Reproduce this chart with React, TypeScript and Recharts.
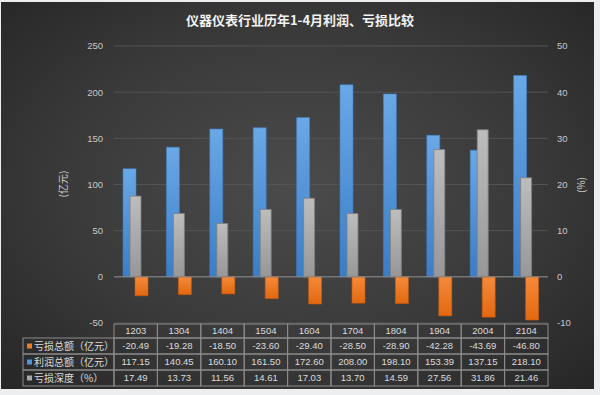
import React from 'react';
import { ComposedChart, Bar, XAxis, YAxis, CartesianGrid, ReferenceLine } from 'recharts';

const categories = ['1203', '1304', '1404', '1504', '1604', '1704', '1804', '1904', '2004', '2104'];
const lossValues = [-20.49, -19.28, -18.5, -23.6, -29.4, -28.5, -28.9, -42.28, -43.69, -46.8];
const profitValues = [117.15, 140.45, 160.1, 161.5, 172.6, 208.0, 198.1, 153.39, 137.15, 218.1];
const depthValues = [17.49, 13.73, 11.56, 14.61, 17.03, 13.7, 14.59, 27.56, 31.86, 21.46];
const leftTicks = [-50, 0, 50, 100, 150, 200, 250];
const rightTicks = [-10, 0, 10, 20, 30, 40, 50];
const rowLabels = ['亏损总额（亿元）', '利润总额（亿元）', '亏损深度（%）'];

const data = categories.map((cat, i) => ({
  cat,
  loss: lossValues[i],
  profit: profitValues[i],
  depth: depthValues[i],
}));

const W = 600;
const H = 395;
const PLOT_LEFT = 114;
const PLOT_RIGHT = 548;
const CELL_W = (PLOT_RIGHT - PLOT_LEFT) / categories.length;
const LABEL_COL_W = 91;
const ROW_EDGES = [1, 15, 31, 47, 63];
const BORDER = '#8c8c8c';
const TEXT = '#dcdcdc';
const CJK = '"Noto Sans CJK SC", "Noto Sans", sans-serif';
const NUM = '"Liberation Sans", Arial, sans-serif';
const SWATCH = ['url(#gOrange)', 'url(#gBlue)', 'url(#gGray)'];
const SWATCH_FLAT = ['#ee7b25', '#4f92d8', '#a8a8a8'];

const TableTick = (props: any) => {
  const { x, y, payload } = props;
  const index = payload.index;
  const left = x - CELL_W / 2;
  const rows = [
    categories[index],
    lossValues[index].toFixed(2),
    profitValues[index].toFixed(2),
    depthValues[index].toFixed(2),
  ];
  return (
    <g>
      {rows.map((txt, r) => (
        <g key={r}>
          <rect
            x={left}
            y={y + ROW_EDGES[r]}
            width={CELL_W}
            height={ROW_EDGES[r + 1] - ROW_EDGES[r]}
            fill="none"
            stroke={BORDER}
            strokeWidth={1}
          />
          <text
            x={x}
            y={y + (ROW_EDGES[r] + ROW_EDGES[r + 1]) / 2}
            dy="0.36em"
            textAnchor="middle"
            fill={TEXT}
            fontSize={9.5}
            fontFamily={NUM}
          >
            {txt}
          </text>
        </g>
      ))}
      {index === 0 &&
        rowLabels.map((lab, r) => {
          const top = y + ROW_EDGES[r + 1];
          const h = ROW_EDGES[r + 2] - ROW_EDGES[r + 1];
          const lx = left - LABEL_COL_W;
          return (
            <g key={'l' + r}>
              <rect x={lx} y={top} width={LABEL_COL_W} height={h} fill="none" stroke={BORDER} strokeWidth={1} />
              <rect x={lx + 4} y={top + h / 2 - 2.5} width={5} height={5} fill={SWATCH_FLAT[r]} />
              <text
                x={lx + 11}
                y={top + h / 2}
                dy="0.36em"
                fill={TEXT}
                fontSize={10}
                fontFamily={CJK}
              >
                {lab}
              </text>
            </g>
          );
        })}
    </g>
  );
};

const AxisTitle = (props: any) => {
  const { posX, posY, text } = props;
  return (
    <text
      x={posX}
      y={posY}
      transform={`rotate(-90 ${posX} ${posY})`}
      textAnchor="middle"
      dominantBaseline="central"
      fill="#cfcfcf"
      fontSize={10}
      fontFamily={CJK}
    >
      {text}
    </text>
  );
};

export default function App() {
  return (
    <div style={{ position: 'absolute', left: 0, top: 0, width: W, height: H, background: '#eceef0', overflow: 'hidden' }}>
      <div
        style={{
          position: 'absolute',
          left: 1,
          top: 2,
          width: 593,
          height: 387,
          background: 'radial-gradient(ellipse at 50% 48%, #4b4b4b 0%, #3a3a3a 55%, #262626 100%)',
        }}
      />
      <div
        style={{
          position: 'absolute',
          left: 0,
          top: 10,
          width: W,
          textAlign: 'center',
          color: '#f2f2f2',
          fontFamily: CJK,
          fontWeight: 700,
          fontSize: 13,
          lineHeight: '20px',
        }}
      >
        仪器仪表行业历年1-4月利润、亏损比较
      </div>
      <div style={{ position: 'absolute', left: 0, top: 0 }}>
        <ComposedChart
          width={W}
          height={H}
          data={data}
          margin={{ top: 46, right: 12, bottom: 9, left: 54 }}
          barGap={-1}
        >
          <defs>
            <linearGradient id="gBlue" x1="0" y1="0" x2="0" y2="1">
              <stop offset="0%" stopColor="#6aa8e6" />
              <stop offset="100%" stopColor="#3b7dc6" />
            </linearGradient>
            <linearGradient id="gGray" x1="0" y1="0" x2="0" y2="1">
              <stop offset="0%" stopColor="#bdbdbd" />
              <stop offset="100%" stopColor="#979797" />
            </linearGradient>
            <linearGradient id="gOrange" x1="0" y1="0" x2="0" y2="1">
              <stop offset="0%" stopColor="#f58a3c" />
              <stop offset="100%" stopColor="#e2680f" />
            </linearGradient>
          </defs>
          <CartesianGrid xAxisId="a" yAxisId="left" vertical={false} stroke="#545454" strokeWidth={1} />
          <XAxis
            xAxisId="a"
            dataKey="cat"
            height={63}
            axisLine={false}
            tickLine={false}
            tickSize={0}
            tickMargin={0}
            interval={0}
            tick={<TableTick />}
          />
          <XAxis xAxisId="b" dataKey="cat" hide />
          <YAxis
            yAxisId="left"
            width={60}
            domain={[-50, 250]}
            ticks={leftTicks}
            axisLine={false}
            tickLine={false}
            tickMargin={5}
            tick={{ fill: '#c8c8c8', fontSize: 9.5, fontFamily: NUM }}
            label={<AxisTitle posX={62} posY={184} text="(亿元)" />}
          />
          <YAxis
            yAxisId="right"
            orientation="right"
            width={40}
            domain={[-10, 50]}
            ticks={rightTicks}
            axisLine={false}
            tickLine={false}
            tickMargin={3}
            tick={{ fill: '#c8c8c8', fontSize: 9.5, fontFamily: NUM }}
            label={<AxisTitle posX={580} posY={185} text="(%)" />}
          />
          <ReferenceLine xAxisId="a" yAxisId="left" y={0} stroke="#8a8a8a" strokeWidth={1} />
          <Bar
            xAxisId="a"
            yAxisId="left"
            dataKey="profit"
            barSize={13}
            fill="url(#gBlue)"
            stroke="#3f7cc0"
            strokeWidth={0.6}
            isAnimationActive={false}
          />
          <Bar
            xAxisId="b"
            yAxisId="right"
            dataKey="depth"
            barSize={11}
            fill="url(#gGray)"
            stroke="#7e7e7e"
            strokeWidth={0.8}
            isAnimationActive={false}
          />
          <Bar
            xAxisId="a"
            yAxisId="left"
            dataKey="loss"
            barSize={13}
            fill="url(#gOrange)"
            stroke="#c75a0c"
            strokeWidth={0.6}
            isAnimationActive={false}
          />
        </ComposedChart>
      </div>
    </div>
  );
}
